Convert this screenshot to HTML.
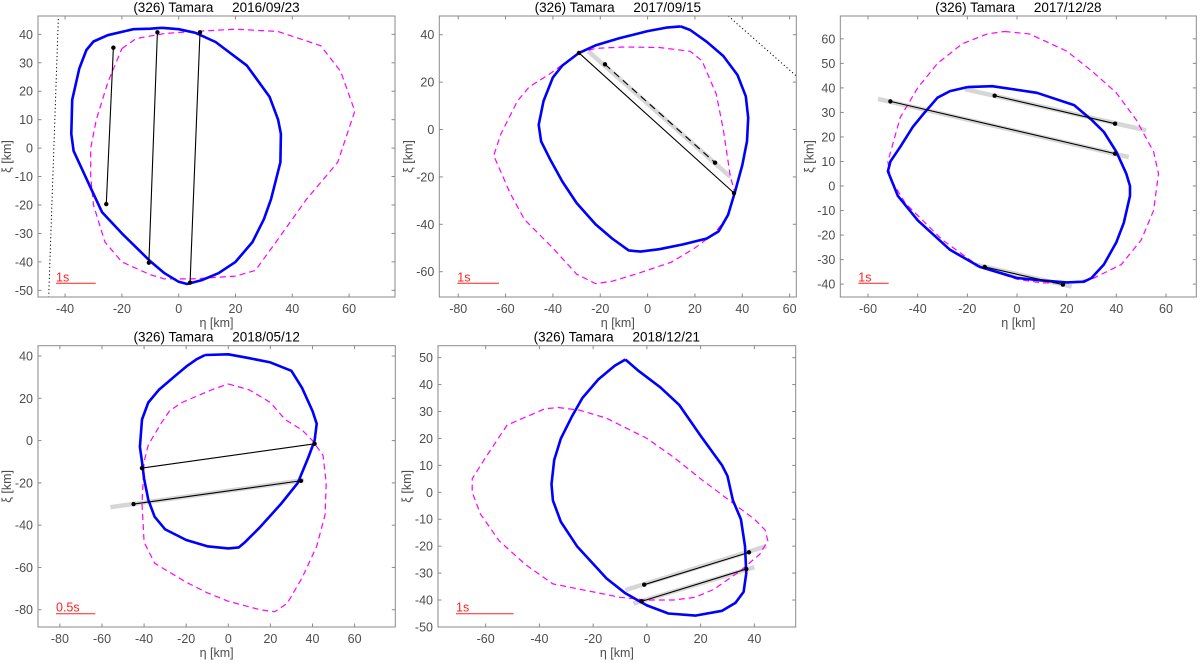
<!DOCTYPE html>
<html><head><meta charset="utf-8">
<style>
html,body{margin:0;padding:0;background:#fff;}
svg{display:block;font-family:"Liberation Sans",sans-serif;}
text{white-space:pre;}
</style></head>
<body>
<svg id="fig" width="1200" height="663" viewBox="0 0 1200 663" xmlns="http://www.w3.org/2000/svg"></svg>
<script>
// ---------- DATA (km) ----------
const p1Blue=[[-6,42.3],[0,41.8],[6,40.5],[13,37.3],[24,29],[32,18],[35,10],[36,5],[35.8,-5],[32.5,-18],[30,-25],[26,-33],[20,-40],[14,-44],[8,-46.5],[3,-47.8],[0,-47],[-5,-44],[-10,-39.8],[-20,-30],[-27,-22.5],[-31,-14],[-37,-1],[-37.8,5],[-37.5,17],[-35,28],[-32.5,34.5],[-30,37.5],[-25,39.7],[-16,41.8],[-10,42],[-6,42.3]];
const p1Mag=[[-20,35],[-15,38.5],[-5,40.3],[5,41],[20,41.8],[35,41],[50,36],[57,27],[62,13],[56,-5],[45,-18],[35,-32],[27,-43],[20,-45],[5,-46],[-5,-46],[-10,-44.5],[-20,-40],[-26,-33],[-30,-20],[-31,-10],[-31,0],[-29,10],[-25,23],[-20,35]];
const p1Chords=[[-23,35.3,-25.5,-19.7],[-7.5,40.7,-10.5,-40.3],[7.5,40.7,4,-47.3]];
const p1Dashed=[];
const p1Grey=[];
const p1Dotted=[[-42.3,48,-45.8,-53]];

const p2Blue=[[14,43.5],[18,42],[25,37],[32,31],[38,23],[41.5,14],[42.5,5],[42,-5],[40,-15],[37,-26],[34,-36],[30,-43],[25,-46],[15,-48.5],[5,-50.5],[-3,-51.5],[-8,-51],[-15,-46],[-22,-40],[-30,-31],[-36,-22],[-41,-13],[-45,-5],[-46,2],[-44,12],[-40,22],[-36,27],[-29,32.3],[-22,35.5],[-12,38.5],[0,41.5],[8,43],[14,43.5]];
const p2Mag=[[-29,32.3],[-22,34.2],[-10,34.8],[5,34.6],[18,33],[23,29],[29,15],[32,0],[35,-20],[37,-27],[33,-38],[28,-44],[20,-50],[10,-56],[-5,-61],[-15,-64],[-22,-65],[-30,-61],[-40,-50],[-52,-38],[-58,-27],[-65,-11],[-62,-2],[-55,12],[-50,18],[-42,23],[-35,28],[-29,32.3]];
const p2Chords=[[-29,32.3,36.5,-26.8]];
const p2Dashed=[[-18,27.5,28.5,-14]];
const p2Grey=[[-25,33,35,-20]];
const p2Dotted=[[34.1,47.9,62.8,22.6]];

const p3Blue=[[-20,40.3],[-10,40.7],[8,38],[23,33],[30,27],[35,22],[40,14],[44,5],[45.5,0],[45.5,-4],[43,-15],[40,-23],[35,-32],[30,-37.5],[27,-39],[20,-39.3],[10,-38.5],[0,-37.5],[-15,-33],[-27,-26],[-40,-14],[-48,-4],[-52,6],[-51,10],[-47,16],[-42,24],[-38,29],[-32,36],[-27,38.7],[-20,40.3]];
const p3Mag=[[-5,63],[5,62],[20,55],[30,47],[40,38],[48,27],[55,14],[57,5],[55,-10],[50,-22],[42,-32],[30,-38],[20,-39.5],[10,-39.5],[0,-38],[-15,-33],[-30,-22],[-45,-7],[-51,3],[-52,10],[-47,28],[-40,40],[-32,50],[-22,58],[-12,62],[-5,63]];
const p3Chords=[[-51,34.5,39.5,13.2],[-9,36.8,39.5,25.4],[-13,-33,18.5,-40.2]];
const p3Dashed=[];
const p3Grey=[[-56,35.5,45,11.8],[-21,39.5,52,22.7],[-17,-32,22,-41]];
const p3Dotted=[];

const p4Blue=[[-11,40.5],[0,40.8],[10,39],[20,37],[30,33],[35,25],[40,14],[42,8],[41,0],[38,-8],[33,-20],[25,-30],[15,-41],[8,-48],[5,-50.5],[0,-51],[-10,-50],[-20,-47],[-30,-42],[-35,-36],[-38,-28],[-40,-18],[-41,-10],[-42,-3],[-41,10],[-38,18],[-33,24],[-26,30],[-20,35],[-15,38.5],[-11,40.5]];
const p4Mag=[[0,26.8],[10,24],[20,18],[27,10],[35,5],[40,0],[45,-7],[46.5,-20],[46,-35],[42,-50],[35,-65],[28,-77],[22,-81],[15,-80],[0,-76],[-10,-72],[-20,-67],[-30,-61],[-35,-58],[-40,-48],[-41,-30],[-40,-10],[-38,-2],[-32,8],[-28,14],[-22,18],[-15,21],[-8,24],[0,26.8]];
const p4Chords=[[-41,-13,41,-1.5],[-45,-30,34.5,-19]];
const p4Dashed=[];
const p4Grey=[[-56,-31.5,36,-18.7]];
const p4Dotted=[];

const p5Blue=[[-8,49.3],[-3,45],[5,39],[12,32.5],[20,21],[28,10],[30,6],[32,-3],[35,-10],[36.5,-20],[37,-30],[36,-37],[33,-41],[28,-44],[18,-45.8],[8,-45],[0,-42],[-8,-37.5],[-15,-32],[-26,-20],[-32,-11],[-35,-3],[-35.5,3],[-34.5,12],[-32,20],[-28,28],[-24,35],[-18,42],[-12,47],[-8,49.3]];
const p5Mag=[[-33,31.5],[-25,30.5],[-15,27.5],[-10,25],[0,20],[10,13],[20,5],[30,-2.5],[40,-10],[44,-14],[45,-18],[42,-23],[35,-29],[25,-36],[18,-39],[10,-40],[0,-40],[-10,-39],[-20,-37],[-35,-34],[-45,-27],[-55,-18],[-62,-8],[-65,0],[-65,5],[-60,13],[-52,25],[-45,28],[-38,31],[-33,31.5]];
const p5Chords=[[-1,-34.3,38,-22.3],[-2,-40.5,37,-28.5]];
const p5Dashed=[];
const p5Grey=[[-8,-36.3,44.5,-20],[-5,-41.3,40,-27.8]];
const p5Dotted=[];

const titles=["(326) Tamara     2016/09/23","(326) Tamara     2017/09/15","(326) Tamara     2017/12/28","(326) Tamara     2018/05/12","(326) Tamara     2018/12/21"];
const xTicks1=[-40,-20,0,20,40,60], yTicks1=[-50,-40,-30,-20,-10,0,10,20,30,40];
const xTicks2=[-80,-60,-40,-20,0,20,40,60], yTicks2=[-60,-40,-20,0,20,40];
const xTicks3=[-60,-40,-20,0,20,40,60], yTicks3=[-40,-30,-20,-10,0,10,20,30,40,50,60];
const xTicks4=[-80,-60,-40,-20,0,20,40,60], yTicks4=[-80,-60,-40,-20,0,20,40];
const xTicks5=[-60,-40,-20,0,20,40], yTicks5=[-50,-40,-30,-20,-10,0,10,20,30,40,50];
const scaleLabels=["1s","1s","1s","0.5s","1s"];

// ---------- LAYOUT ----------
const layout=[
 {L:38,R:395,T:16,B:297,x0:178.7,kx:2.84,y0:148.1,ky:2.844,bar:[56,95.7,283.3]},
 {L:439.3,R:796.3,T:16,B:297,x0:647.6,kx:2.367,y0:129.5,ky:2.37,bar:[457.3,499,283.3]},
 {L:840.3,R:1196.3,T:16,B:297,x0:1017,kx:2.483,y0:186,ky:2.453,bar:[858.3,888.7,283.3]},
 {L:38,R:395.3,T:345.7,B:627,x0:228.3,kx:2.105,y0:440.6,ky:2.114,bar:[56,95.3,613.7]},
 {L:438,R:795.7,T:345.7,B:627,x0:646.9,kx:2.687,y0:492.3,ky:2.693,bar:[456,513.7,613.7]}
];
const panels=[
 {blue:p1Blue,mag:p1Mag,ch:p1Chords,da:p1Dashed,gr:p1Grey,dot:p1Dotted,xt:xTicks1,yt:yTicks1},
 {blue:p2Blue,mag:p2Mag,ch:p2Chords,da:p2Dashed,gr:p2Grey,dot:p2Dotted,xt:xTicks2,yt:yTicks2},
 {blue:p3Blue,mag:p3Mag,ch:p3Chords,da:p3Dashed,gr:p3Grey,dot:p3Dotted,xt:xTicks3,yt:yTicks3},
 {blue:p4Blue,mag:p4Mag,ch:p4Chords,da:p4Dashed,gr:p4Grey,dot:p4Dotted,xt:xTicks4,yt:yTicks4},
 {blue:p5Blue,mag:p5Mag,ch:p5Chords,da:p5Dashed,gr:p5Grey,dot:p5Dotted,xt:xTicks5,yt:yTicks5}
];
const NS="http://www.w3.org/2000/svg";
const svg=document.getElementById('fig');
function mk(tag,attrs,parent){const e=document.createElementNS(NS,tag);for(const k in attrs)e.setAttribute(k,attrs[k]);parent.appendChild(e);return e;}

panels.forEach((p,i)=>{
 const G=layout[i];
 const sx=v=>G.x0+v*G.kx, sy=v=>G.y0-v*G.ky;
 const g=mk('g',{},svg);
 
 
 const cid='clip'+i;
 const cp=mk('clipPath',{id:cid},g);
 mk('rect',{x:G.L,y:G.T,width:G.R-G.L,height:G.B-G.T},cp);
 const t=mk('text',{x:(G.L+G.R)/2,y:G.T-4,'text-anchor':'middle','font-size':13.5,fill:'#000'},g);
 t.textContent=titles[i];
 
 
 p.xt.forEach(v=>{
  const x=sx(v);
  mk('line',{x1:x,y1:G.B,x2:x,y2:G.B-3.5,stroke:'#8a8a8a'},g);
  mk('line',{x1:x,y1:G.T,x2:x,y2:G.T+3.5,stroke:'#8a8a8a'},g);
  const tl=mk('text',{x:x,y:G.B+16,'text-anchor':'middle','font-size':12.5,fill:'#4d4d4d'},g);
  tl.textContent=v;
  
  
 });
 p.yt.forEach(v=>{
  const y=sy(v);
  mk('line',{x1:G.L,y1:y,x2:G.L+3.5,y2:y,stroke:'#8a8a8a'},g);
  mk('line',{x1:G.R,y1:y,x2:G.R-3.5,y2:y,stroke:'#8a8a8a'},g);
  const tl=mk('text',{x:G.L-5,y:y+4.5,'text-anchor':'end','font-size':12.5,fill:'#4d4d4d'},g);
  tl.textContent=v;
  
  
 });
 const xl=mk('text',{x:(G.L+G.R)/2,y:G.B+30,'text-anchor':'middle','font-size':12.5,fill:'#4d4d4d'},g);
 xl.textContent='η [km]';
 
 
 const yc=(G.T+G.B)/2, yx=G.L-27;
 const yl=mk('text',{x:yx,y:yc,'text-anchor':'middle','font-size':12.5,fill:'#4d4d4d',transform:`rotate(-90 ${yx} ${yc})`},g);
 yl.textContent='ξ [km]';
 
 
 const pg=mk('g',{'clip-path':`url(#${cid})`},g);
 p.dot.forEach(d=>{
  const l=mk('line',{x1:sx(d[0]),y1:sy(d[1]),x2:sx(d[2]),y2:sy(d[3]),stroke:'#000','stroke-width':1,'stroke-dasharray':'1.2,2.5'},pg);
  
  
 });
 p.gr.forEach(d=>{
  const l=mk('line',{x1:sx(d[0]),y1:sy(d[1]),x2:sx(d[2]),y2:sy(d[3]),stroke:'#d6d6d6','stroke-width':4.5},pg);
  
  
 });
 const pts=a=>a.map(q=>sx(q[0]).toFixed(1)+','+sy(q[1]).toFixed(1)).join(' ');
 const mg=mk('polyline',{points:pts(p.mag),fill:'none',stroke:'#ff00ff','stroke-width':1.2,'stroke-dasharray':'6,4'},pg);
 
 
 const bl=mk('polyline',{points:pts(p.blue),fill:'none',stroke:'#0000ff','stroke-width':2.6,'stroke-linejoin':'round'},pg);
 
 
 const drawChord=(d,dash)=>{
  const l=mk('line',{x1:sx(d[0]),y1:sy(d[1]),x2:sx(d[2]),y2:sy(d[3]),stroke:'#000','stroke-width':1.1},pg);
  if(dash)l.setAttribute('stroke-dasharray','7,5');
  
  
  [[d[0],d[1]],[d[2],d[3]]].forEach(q=>{
   const c=mk('circle',{cx:sx(q[0]),cy:sy(q[1]),r:2.2,fill:'#000'},pg);
   
   
  });
 };
 p.ch.forEach(d=>drawChord(d,false));
 p.da.forEach(d=>drawChord(d,true));
 const b=G.bar;
 const sb=mk('line',{x1:b[0],y1:b[2],x2:b[1],y2:b[2],stroke:'#ff2020','stroke-width':1},g);
 
 
 const st=mk('text',{x:b[0],y:b[2]-2,'font-size':12.5,fill:'#ff2020'},g);
 st.textContent=scaleLabels[i];
 
 
 const bx=mk('rect',{x:G.L,y:G.T,width:G.R-G.L,height:G.B-G.T,fill:'none',stroke:'#8a8a8a','stroke-width':1},g);
 
 
});
</script>
</body></html>
